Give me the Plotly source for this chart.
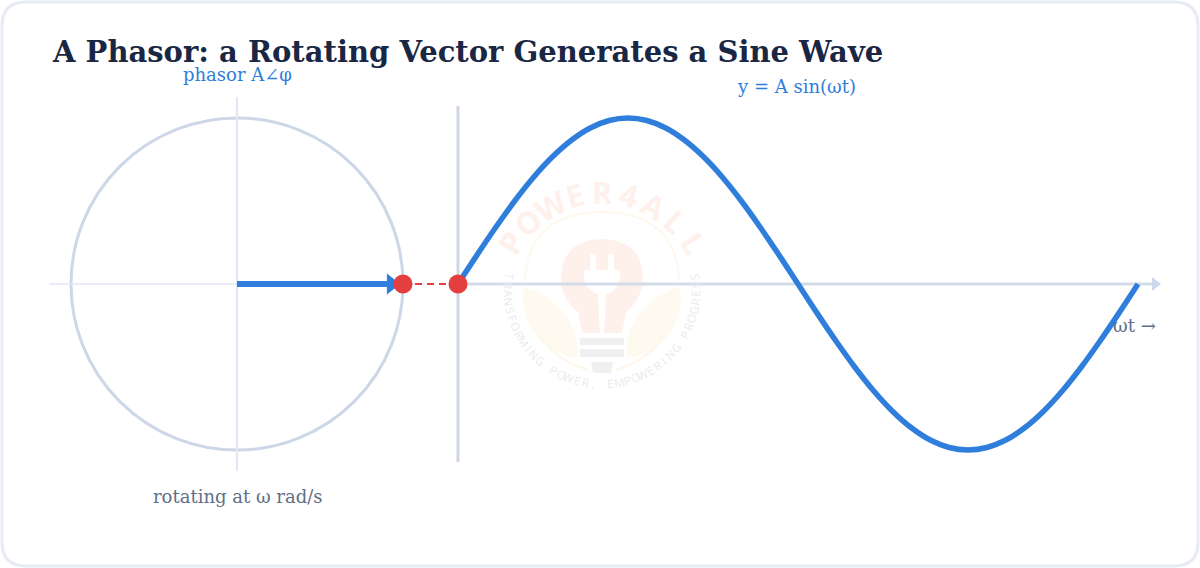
import math
import plotly.graph_objects as go

# sine wave, every 10 degrees
wave_deg = [0, 10, 20, 30, 40, 50, 60, 70, 80, 90, 100, 110, 120, 130, 140, 150, 160, 170, 180,
            190, 200, 210, 220, 230, 240, 250, 260, 270, 280, 290, 300, 310, 320, 330, 340, 350, 360]
wave_val = [0, 0.174, 0.342, 0.5, 0.643, 0.766, 0.866, 0.94, 0.985, 1, 0.985, 0.94, 0.866, 0.766, 0.643, 0.5, 0.342, 0.174, 0,
            -0.174, -0.342, -0.5, -0.643, -0.766, -0.866, -0.94, -0.985, -1, -0.985, -0.94, -0.866, -0.766, -0.643, -0.5, -0.342, -0.174, 0]

phasor_x = [0, 0.93]
phasor_y = [0, 0]
link_x = [1, 1.331]
link_y = [0, 0]
circle_axis_x = [-1.13, 1.13]
circle_axis_y = [-1.127, 1.127]
wave_axis_deg = [0, 369]
wave_axis_y = [-1.072, 1.072]

title_text = "A Phasor: a Rotating Vector Generates a Sine Wave"
logo_name = "POWER4ALL"
logo_tag = "TRANSFORMING POWER, EMPOWERING PROGRESS"

BLUE = "#2f7edb"
RED = "#e53e3e"
GRID = "#e2e8f3"
AXIS = "#cdd7e8"
SERIF = "DejaVu Serif"


def px(v):
    return v / 1200


def py(v):
    return 1 - v / 568


fig = go.Figure()


def line(x, y, color, width, xaxis="x", dash=None):
    fig.add_trace(go.Scatter(x=x, y=y, mode="lines", xaxis=xaxis, yaxis="y",
                             line=dict(color=color, width=width, dash=dash),
                             hoverinfo="skip", showlegend=False))


def marker(x, y, symbol, size, color, xaxis="x"):
    fig.add_trace(go.Scatter(x=x, y=y, mode="markers", xaxis=xaxis, yaxis="y",
                             marker=dict(symbol=symbol, size=size, color=color,
                                         line=dict(width=0)),
                             hoverinfo="skip", showlegend=False))


# phasor side
line(circle_axis_x, [0, 0], GRID, 1.5)
line([0, 0], circle_axis_y, GRID, 2)
line(phasor_x, phasor_y, BLUE, 6)
marker([0.93], [0], "triangle-right", 18, BLUE)

# wave side
line(wave_axis_deg, [0, 0], "#d3dbe9", 3, xaxis="x2")
marker([wave_axis_deg[1]], [0], "triangle-right", 12, "#cfd9ee", xaxis="x2")
line([0, 0], wave_axis_y, AXIS, 3, xaxis="x2")
fig.add_trace(go.Scatter(x=wave_deg, y=wave_val, mode="lines", xaxis="x2", yaxis="y",
                         line=dict(color=BLUE, width=5.5, shape="spline", smoothing=1),
                         hoverinfo="skip", showlegend=False))

# link between the two
line(link_x, link_y, RED, 2, dash="7px,5px")
marker([1], [0], "circle", 19, RED)
marker([0], [0], "circle", 19, RED, xaxis="x2")

shapes = [
    # card border
    dict(type="path", xref="paper", yref="paper", layer="below",
         path=f"M {px(26)} {py(2)} L {px(1174)} {py(2)} Q {px(1198)} {py(2)} {px(1198)} {py(26)} "
              f"L {px(1198)} {py(542)} Q {px(1198)} {py(566)} {px(1174)} {py(566)} "
              f"L {px(26)} {py(566)} Q {px(2)} {py(566)} {px(2)} {py(542)} "
              f"L {px(2)} {py(26)} Q {px(2)} {py(2)} {px(26)} {py(2)} Z",
         line=dict(color="#e6ebf4", width=3), fillcolor="white"),
    # phasor circle
    dict(type="circle", xref="x", yref="y", x0=-1, x1=1, y0=-1, y1=1, layer="below",
         line=dict(color=AXIS, width=3)),
]


def logo_path(d, fill, stroke=None, width=0):
    shapes.append(dict(type="path", xref="paper", yref="paper", layer="below", path=d,
                       fillcolor=fill, line=dict(color=stroke or fill, width=width)))


def pts(cmds):
    # "M", (x, y) ... -> path string in paper coordinates
    out = []
    for c in cmds:
        out.append(c if isinstance(c, str) else f"{px(c[0])} {py(c[1])}")
    return " ".join(out)


# watermark: leaves, ring, bulb, plug, base
logo_path(pts(["M", (524, 287), "C", (518, 325), (545, 355), (577, 358), "C", (582, 325), (555, 295), (524, 287), "Z"]), "#fffaf0")
logo_path(pts(["M", (680, 287), "C", (686, 325), (659, 355), (627, 358), "C", (622, 325), (649, 295), (680, 287), "Z"]), "#fffaf0")
logo_path(pts(["M", (525, 280), "Q", (528, 213), (602, 212), "Q", (676, 213), (679, 280)]),
          "rgba(0,0,0,0)", "#fef8ee", 2)
logo_path(pts(["M", (540, 335), "Q", (555, 360), (588, 370)]), "rgba(0,0,0,0)", "#fef6e8", 2)
logo_path(pts(["M", (664, 335), "Q", (649, 360), (616, 370)]), "rgba(0,0,0,0)", "#fef6e8", 2)
logo_path(pts(["M", (582, 333), "L", (578, 312), "Q", (561, 298), (561, 278),
               "Q", (562, 240), (602, 239), "Q", (642, 240), (643, 278),
               "Q", (643, 298), (626, 312), "L", (622, 333), "Z"]), "#fef1ec")
logo_path(pts(["M", (590, 254), "L", (596, 254), "L", (596, 270), "L", (608, 270), "L", (608, 254),
               "L", (614, 254), "L", (614, 270), "L", (620, 270), "L", (620, 280),
               "Q", (616, 292), (606, 294), "L", (604, 335), "L", (600, 335), "L", (598, 294),
               "Q", (588, 292), (584, 280), "L", (584, 270), "L", (590, 270), "Z"]), "#ffffff")
logo_path(pts(["M", (580, 338), "L", (624, 338), "L", (624, 345), "L", (580, 345), "Z"]), "#eef0f2")
logo_path(pts(["M", (580, 349), "L", (624, 349), "L", (624, 357), "L", (580, 357), "Z"]), "#eef0f2")
logo_path(pts(["M", (591, 362), "L", (613, 362), "L", (611, 373), "L", (593, 373), "Z"]), "#eef0f2")

annotations = []


def label(text, x, y, xref, color, size=18):
    annotations.append(dict(text=text, x=x, y=y, xref=xref, yref="y", showarrow=False,
                            font=dict(family=SERIF, size=size, color=color),
                            xanchor="center", yanchor="middle"))


label("phasor A∠φ", 0, 1.265, "x", BLUE)
label("y = A sin(ωt)", 179, 1.19, "x2", BLUE)
label("rotating at ω rad/s", 0, -1.283, "x", "#5f6f86")
label("ωt →", 358, -0.247, "x2", "#5f6f86")

# watermark lettering set along its arcs
for i, ch in enumerate(logo_name):
    a = math.radians(-58 + i * 116 / (len(logo_name) - 1))
    annotations.append(dict(text=f"<b>{ch}</b>", xref="paper", yref="paper", showarrow=False,
                            x=px(602 + 108 * math.sin(a)), y=py(300 - 108 * math.cos(a)),
                            textangle=math.degrees(a),
                            font=dict(family="Open Sans", size=31, color="#fef1ec"),
                            xanchor="center", yanchor="middle"))
for i, ch in enumerate(logo_tag):
    a = math.radians(-98 + i * 196 / (len(logo_tag) - 1))
    annotations.append(dict(text=ch, xref="paper", yref="paper", showarrow=False,
                            x=px(602 + 94 * math.sin(a)), y=py(290 + 94 * math.cos(a)),
                            textangle=-math.degrees(a),
                            font=dict(family="Open Sans", size=11.5, color="#e8ebee"),
                            xanchor="center", yanchor="middle"))

fig.update_layout(
    width=1200,
    height=568,
    margin=dict(l=0, r=0, t=0, b=0),
    paper_bgcolor="white",
    plot_bgcolor="rgba(0,0,0,0)",
    showlegend=False,
    title=dict(text=f"<b>{title_text}</b>", x=53 / 1200, xanchor="left", y=1 - 52 / 568, yanchor="middle",
               font=dict(family=SERIF, size=29, color="#1a2744")),
    # 166 px per unit of amplitude, circle centre at px 237, wave origin at px 458
    xaxis=dict(visible=False, range=[-237 / 166, 963 / 166], fixedrange=True),
    xaxis2=dict(visible=False, range=[-458 * 360 / 680, 742 * 360 / 680], overlaying="x", fixedrange=True),
    yaxis=dict(visible=False, range=[-284 / 166, 284 / 166], fixedrange=True),
    shapes=shapes,
    annotations=annotations,
)

fig.write_html("out.html", config=dict(displayModeBar=False),
               post_script="document.body.style.margin = '0';")
